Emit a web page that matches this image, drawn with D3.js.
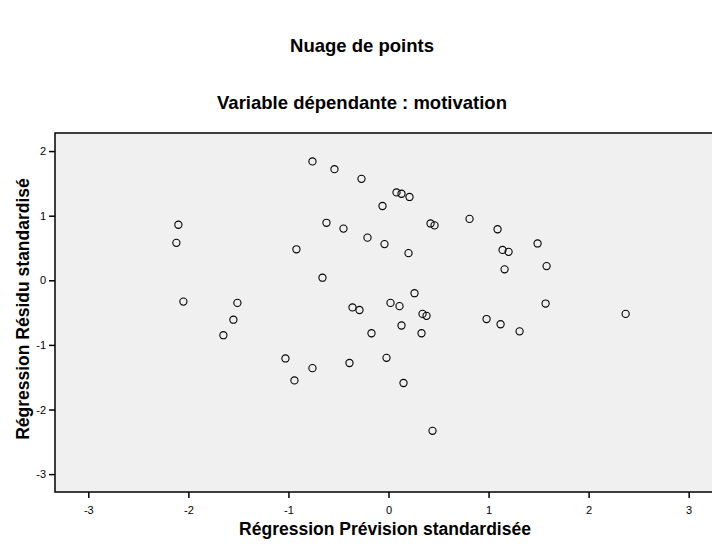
<!DOCTYPE html>
<html>
<head>
<meta charset="utf-8">
<script src="https://cdn.jsdelivr.net/npm/d3@7"></script>
<style>
  body { margin: 0; background: #fff; }
  svg { display: block; font-family: "Liberation Sans", Arial, sans-serif; }
</style>
</head>
<body>
<svg id="chart" width="712" height="544"></svg>
<script>
// prevision standardisee (x) / residu standardise (y)
var xPrev = [-2.10, -2.12, -2.05, -1.51, -1.55, -1.65, -0.76, -0.54, -0.27, 0.08,
             0.13, 0.21, -0.06, -0.62, -0.45, 0.42, 0.46, -0.21, -0.04, 0.20,
             -0.92, 0.81, 1.09, 1.14, 1.20, 1.49, 1.58, 1.16, -0.66, 0.26,
             0.02, -0.36, -0.29, 0.11, 0.34, 0.38, -0.17, 0.13, 0.33, 1.57,
             0.98, 1.12, 1.31, 2.37, -1.03, -0.76, -0.94, -0.39, -0.02, 0.15,
             0.44];
var yResid = [0.86, 0.58, -0.33, -0.35, -0.61, -0.85, 1.84, 1.72, 1.57, 1.36,
              1.34, 1.29, 1.15, 0.89, 0.80, 0.88, 0.85, 0.66, 0.56, 0.42,
              0.48, 0.95, 0.79, 0.47, 0.44, 0.57, 0.22, 0.17, 0.04, -0.20,
              -0.35, -0.42, -0.46, -0.40, -0.52, -0.55, -0.82, -0.70, -0.82, -0.36,
              -0.60, -0.68, -0.79, -0.52, -1.21, -1.36, -1.55, -1.28, -1.20, -1.59,
              -2.33];
var xTicks = [-3, -2, -1, 0, 1, 2, 3];
var yTicks = [-3, -2, -1, 0, 1, 2];

var svg = d3.select("#chart");
var plotLeft = 55, plotRight = 722, plotTop = 133, plotBottom = 492;

var xScale = d3.scaleLinear().domain([-3.333, 3.333]).range([plotLeft, plotRight]);
var yScale = d3.scaleLinear().domain([-3.277, 2.28]).range([plotBottom, plotTop]);
var fmt = function (d) { return String(d); };

svg.append("text")
    .attr("x", 362).attr("y", 52)
    .attr("text-anchor", "middle")
    .attr("font-size", "18.5px").attr("font-weight", "bold")
    .text("Nuage de points");

svg.append("text")
    .attr("x", 362).attr("y", 109)
    .attr("text-anchor", "middle")
    .attr("font-size", "18.5px").attr("font-weight", "bold")
    .text("Variable dépendante : motivation");

svg.append("rect")
    .attr("x", plotLeft).attr("y", plotTop)
    .attr("width", plotRight - plotLeft).attr("height", plotBottom - plotTop)
    .attr("fill", "#f0f0f0")
    .attr("stroke", "#000").attr("stroke-width", 1.5);

var gx = svg.append("g")
    .attr("transform", "translate(0," + plotBottom + ")")
    .call(d3.axisBottom(xScale).tickValues(xTicks).tickFormat(fmt).tickSize(6).tickSizeOuter(0));
gx.select(".domain").remove();

var gy = svg.append("g")
    .attr("transform", "translate(" + plotLeft + ",0)")
    .call(d3.axisLeft(yScale).tickValues(yTicks).tickFormat(fmt).tickSize(6).tickSizeOuter(0));
gy.select(".domain").remove();

svg.selectAll(".tick line").attr("stroke", "#000").attr("stroke-width", 1.5);
svg.selectAll(".tick text")
    .attr("font-family", "Liberation Sans, Arial, sans-serif")
    .attr("font-size", "11px").attr("fill", "#000");
gx.selectAll(".tick text").attr("dy", "1.15em");
gy.selectAll(".tick text").attr("x", -9);

svg.append("text")
    .attr("x", 385).attr("y", 535)
    .attr("text-anchor", "middle")
    .attr("font-size", "17.5px").attr("font-weight", "bold")
    .text("Régression Prévision standardisée");

svg.append("text")
    .attr("transform", "translate(29,309) rotate(-90)")
    .attr("text-anchor", "middle")
    .attr("font-size", "17.5px").attr("font-weight", "bold")
    .text("Régression Résidu standardisé");

svg.append("g")
    .selectAll("circle")
    .data(xPrev)
    .enter().append("circle")
    .attr("cx", function (d) { return xScale(d); })
    .attr("cy", function (d, i) { return yScale(yResid[i]); })
    .attr("r", 3.6)
    .attr("fill", "none")
    .attr("stroke", "#000")
    .attr("stroke-width", 1.1);
</script>
</body>
</html>
